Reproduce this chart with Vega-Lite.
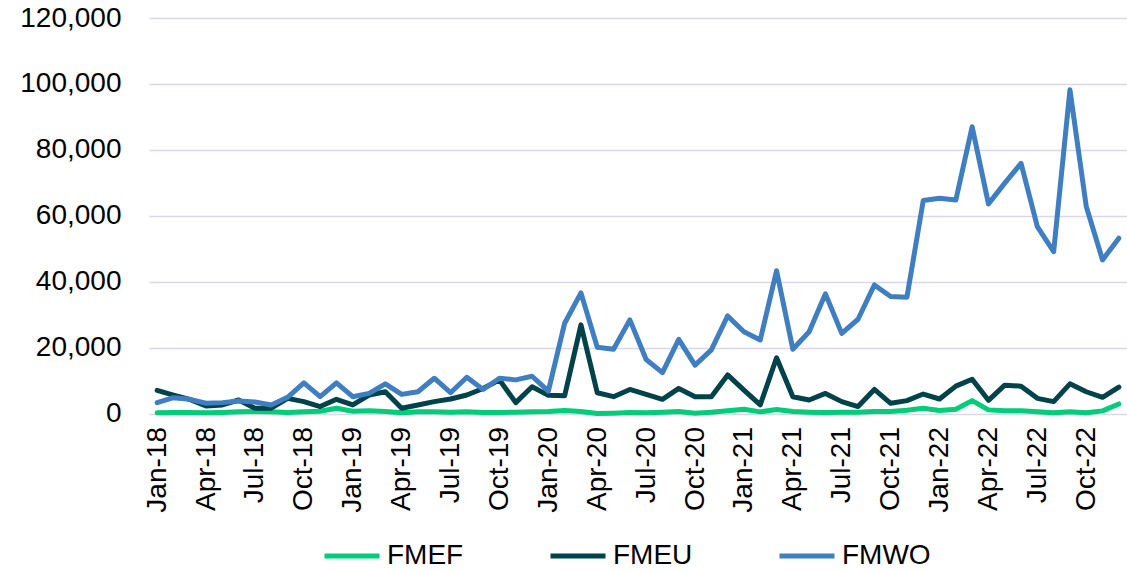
{
  "$schema": "https://vega.github.io/schema/vega-lite/v6.json",
  "width": 978,
  "height": 395.5,
  "autosize": "none",
  "padding": {"left": 149, "top": 18, "right": 0, "bottom": 157.5},
  "background": "white",
  "config": {"view": {"stroke": null}, "font": "Liberation Sans"},
  "data": {"values": [
    {"m": "Jan-18", "FMEF": 200, "FMEU": 7000, "FMWO": 3300},
    {"m": "Feb-18", "FMEF": 300, "FMEU": 5600, "FMWO": 4800},
    {"m": "Mar-18", "FMEF": 300, "FMEU": 4300, "FMWO": 4300},
    {"m": "Apr-18", "FMEF": 200, "FMEU": 2300, "FMWO": 3100},
    {"m": "May-18", "FMEF": 300, "FMEU": 2600, "FMWO": 3300},
    {"m": "Jun-18", "FMEF": 500, "FMEU": 4100, "FMWO": 3800},
    {"m": "Jul-18", "FMEF": 600, "FMEU": 1600, "FMWO": 3500},
    {"m": "Aug-18", "FMEF": 500, "FMEU": 1600, "FMWO": 2600},
    {"m": "Sep-18", "FMEF": 300, "FMEU": 4600, "FMWO": 4900},
    {"m": "Oct-18", "FMEF": 500, "FMEU": 3600, "FMWO": 9300},
    {"m": "Nov-18", "FMEF": 700, "FMEU": 2100, "FMWO": 5100},
    {"m": "Dec-18", "FMEF": 1600, "FMEU": 4300, "FMWO": 9300},
    {"m": "Jan-19", "FMEF": 700, "FMEU": 2600, "FMWO": 5100},
    {"m": "Feb-19", "FMEF": 800, "FMEU": 5600, "FMWO": 6100},
    {"m": "Mar-19", "FMEF": 600, "FMEU": 6600, "FMWO": 9000},
    {"m": "Apr-19", "FMEF": 200, "FMEU": 1600, "FMWO": 5800},
    {"m": "May-19", "FMEF": 500, "FMEU": 2600, "FMWO": 6600},
    {"m": "Jun-19", "FMEF": 500, "FMEU": 3600, "FMWO": 10700},
    {"m": "Jul-19", "FMEF": 400, "FMEU": 4400, "FMWO": 6300},
    {"m": "Aug-19", "FMEF": 500, "FMEU": 5600, "FMWO": 11000},
    {"m": "Sep-19", "FMEF": 300, "FMEU": 7600, "FMWO": 7300},
    {"m": "Oct-19", "FMEF": 300, "FMEU": 10200, "FMWO": 10700},
    {"m": "Nov-19", "FMEF": 400, "FMEU": 3300, "FMWO": 10200},
    {"m": "Dec-19", "FMEF": 500, "FMEU": 8100, "FMWO": 11300},
    {"m": "Jan-20", "FMEF": 600, "FMEU": 5500, "FMWO": 6800},
    {"m": "Feb-20", "FMEF": 900, "FMEU": 5400, "FMWO": 27400},
    {"m": "Mar-20", "FMEF": 600, "FMEU": 26900, "FMWO": 36600},
    {"m": "Apr-20", "FMEF": 0, "FMEU": 6300, "FMWO": 20100},
    {"m": "May-20", "FMEF": 100, "FMEU": 5100, "FMWO": 19500},
    {"m": "Jun-20", "FMEF": 300, "FMEU": 7300, "FMWO": 28400},
    {"m": "Jul-20", "FMEF": 200, "FMEU": 5800, "FMWO": 16400},
    {"m": "Aug-20", "FMEF": 400, "FMEU": 4300, "FMWO": 12400},
    {"m": "Sep-20", "FMEF": 600, "FMEU": 7600, "FMWO": 22500},
    {"m": "Oct-20", "FMEF": 100, "FMEU": 5100, "FMWO": 14700},
    {"m": "Nov-20", "FMEF": 400, "FMEU": 5100, "FMWO": 19300},
    {"m": "Dec-20", "FMEF": 800, "FMEU": 11700, "FMWO": 29600},
    {"m": "Jan-21", "FMEF": 1300, "FMEU": 7100, "FMWO": 24800},
    {"m": "Feb-21", "FMEF": 500, "FMEU": 2600, "FMWO": 22300},
    {"m": "Mar-21", "FMEF": 1200, "FMEU": 16900, "FMWO": 43300},
    {"m": "Apr-21", "FMEF": 600, "FMEU": 5100, "FMWO": 19500},
    {"m": "May-21", "FMEF": 400, "FMEU": 4100, "FMWO": 24800},
    {"m": "Jun-21", "FMEF": 300, "FMEU": 6100, "FMWO": 36300},
    {"m": "Jul-21", "FMEF": 400, "FMEU": 3600, "FMWO": 24300},
    {"m": "Aug-21", "FMEF": 400, "FMEU": 2100, "FMWO": 28600},
    {"m": "Sep-21", "FMEF": 600, "FMEU": 7300, "FMWO": 39000},
    {"m": "Oct-21", "FMEF": 600, "FMEU": 3100, "FMWO": 35500},
    {"m": "Nov-21", "FMEF": 1000, "FMEU": 3900, "FMWO": 35300},
    {"m": "Dec-21", "FMEF": 1600, "FMEU": 5900, "FMWO": 64600},
    {"m": "Jan-22", "FMEF": 900, "FMEU": 4400, "FMWO": 65300},
    {"m": "Feb-22", "FMEF": 1300, "FMEU": 8300, "FMWO": 64800},
    {"m": "Mar-22", "FMEF": 3900, "FMEU": 10400, "FMWO": 87000},
    {"m": "Apr-22", "FMEF": 1100, "FMEU": 4000, "FMWO": 63600},
    {"m": "May-22", "FMEF": 800, "FMEU": 8600, "FMWO": 69900},
    {"m": "Jun-22", "FMEF": 800, "FMEU": 8300, "FMWO": 75900},
    {"m": "Jul-22", "FMEF": 500, "FMEU": 4600, "FMWO": 56700},
    {"m": "Aug-22", "FMEF": 200, "FMEU": 3600, "FMWO": 49100},
    {"m": "Sep-22", "FMEF": 500, "FMEU": 9000, "FMWO": 98200},
    {"m": "Oct-22", "FMEF": 200, "FMEU": 6600, "FMWO": 62800},
    {"m": "Nov-22", "FMEF": 800, "FMEU": 4900, "FMWO": 46600},
    {"m": "Dec-22", "FMEF": 2900, "FMEU": 8000, "FMWO": 53200}
  ]},
  "transform": [{"fold": ["FMEF", "FMEU", "FMWO"], "as": ["series", "value"]}],
  "mark": {"type": "line", "strokeWidth": 5, "strokeCap": "round", "strokeJoin": "round"},
  "encoding": {
    "x": {
      "field": "m", "type": "ordinal", "sort": null,
      "scale": {"type": "point", "padding": 0.5},
      "axis": {
        "title": null,
        "values": ["Jan-18","Apr-18","Jul-18","Oct-18","Jan-19","Apr-19","Jul-19","Oct-19","Jan-20","Apr-20","Jul-20","Oct-20","Jan-21","Apr-21","Jul-21","Oct-21","Jan-22","Apr-22","Jul-22","Oct-22"],
        "labelAngle": -90, "labelFontSize": 28, "labelFont": "Liberation Sans", "labelColor": "#000",
        "ticks": false, "domain": false, "grid": false, "labelPadding": 13
      }
    },
    "y": {
      "field": "value", "type": "quantitative",
      "scale": {"domain": [0, 120000], "nice": false},
      "axis": {
        "title": null,
        "values": [0, 20000, 40000, 60000, 80000, 100000, 120000],
        "format": ",.0f", "labelFontSize": 28, "labelFont": "Liberation Sans", "labelColor": "#000",
        "ticks": false, "domain": false, "labelPadding": 28,
        "gridColor": "#D9D5F2", "gridWidth": 1.5
      }
    },
    "color": {
      "field": "series", "type": "nominal",
      "scale": {"domain": ["FMEF", "FMEU", "FMWO"], "range": ["#00CC7A", "#00424A", "#3E7EC1"]},
      "legend": {
        "title": null, "orient": "none", "legendX": 173, "legendY": 508, "direction": "horizontal",
        "symbolType": "stroke", "symbolSize": 3025, "symbolStrokeWidth": 5,
        "labelFontSize": 28, "labelFont": "Liberation Sans", "labelColor": "#000", "labelOffset": 5, "columnPadding": 76
      }
    }
  }
}
